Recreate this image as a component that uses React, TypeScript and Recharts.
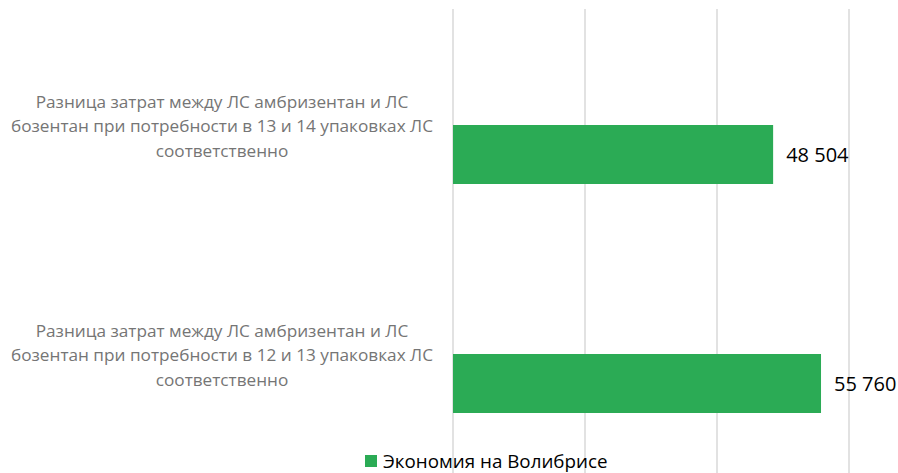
import React from 'react';
import { BarChart, Bar, XAxis, YAxis, CartesianGrid, LabelList } from 'recharts';

const categories = [
  'Разница затрат между ЛС амбризентан и ЛС|бозентан при потребности в 13 и 14 упаковках ЛС|соответственно',
  'Разница затрат между ЛС амбризентан и ЛС|бозентан при потребности в 12 и 13 упаковках ЛС|соответственно',
];
const savings = [48504, 55760];
const xTicks = [0, 20000, 40000, 60000];
const seriesName = 'Экономия на Волибрисе';

const GREEN = '#2bab55';
const FONT = '"Open Sans", "Noto Sans", sans-serif';

const data = categories.map((c, i) => ({ name: c, value: savings[i] }));

function fmtNum(v: unknown): string {
  const n = Math.round(Number(v));
  return String(n).replace(/\B(?=(\d{3})+(?!\d))/g, ' ');
}

function CategoryTick({ y, payload }: any) {
  const lines = String(payload.value).split('|');
  return (
    <text x={222} y={y - 27} textAnchor="middle" fill="#757575" fontSize={17.2} fontFamily={FONT}>
      {lines.map((line, i) => (
        <tspan key={i} x={222} dy={i === 0 ? -(lines.length - 1) * 12.5 + 5 : 24.5}>
          {line}
        </tspan>
      ))}
    </text>
  );
}

export default function App() {
  return (
    <div style={{ position: 'absolute', left: 0, top: 0, width: 898, height: 473, overflow: 'hidden', background: '#fff' }}>
      <BarChart
        width={898}
        height={520}
        data={data}
        layout="vertical"
        margin={{ top: 9, right: 49, left: 0, bottom: 22 }}
      >
        <CartesianGrid horizontal={false} stroke="#d9d9d9" strokeWidth={1.5} />
        <XAxis
          type="number"
          domain={[0, 60000]}
          ticks={xTicks}
          axisLine={false}
          tickLine={false}
          tick={() => <g />}
          height={0}
        />
        <YAxis
          type="category"
          dataKey="name"
          width={453}
          axisLine={false}
          tickLine={false}
          padding={{ top: 31, bottom: 0 }}
          tick={<CategoryTick />}
        />
        <Bar dataKey="value" fill={GREEN} barSize={59} isAnimationActive={false}>
          <LabelList
            dataKey="value"
            position="right"
            offset={13}
            formatter={fmtNum}
            fill="#000"
            fontSize={20}
            fontFamily={FONT}
          />
        </Bar>
      </BarChart>
      <div
        style={{
          position: 'absolute',
          left: 365,
          top: 448,
          display: 'flex',
          alignItems: 'center',
          fontFamily: FONT,
          fontSize: 18.8,
          color: '#000',
          whiteSpace: 'nowrap',
        }}
      >
        <span style={{ display: 'inline-block', width: 12, height: 12, background: GREEN, marginRight: 6 }} />
        {seriesName}
      </div>
    </div>
  );
}
